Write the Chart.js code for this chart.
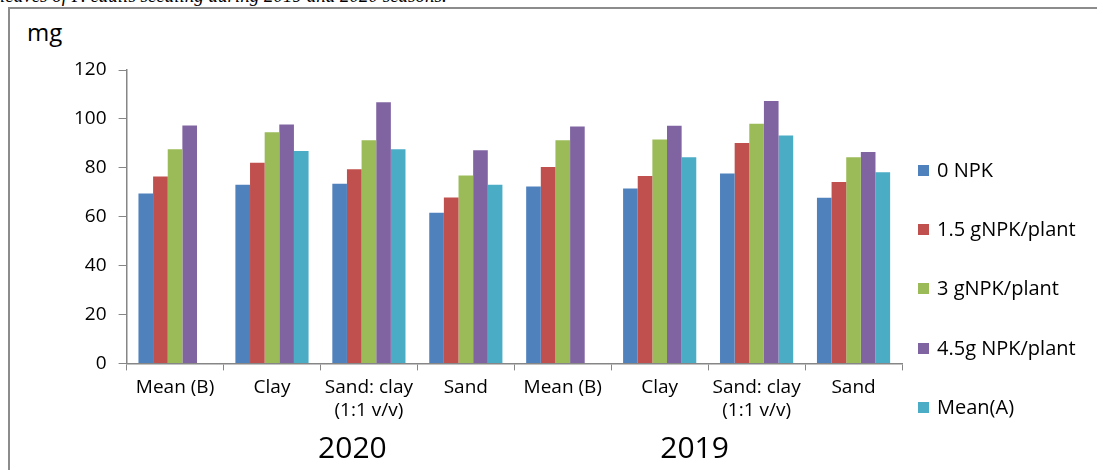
<!DOCTYPE html>
<html>
<head>
<meta charset="utf-8">
<script src="https://cdn.jsdelivr.net/npm/chart.js@4/dist/chart.umd.min.js"></script>
<style>
    html, body { margin: 0; padding: 0; background: #fff; }
    body { width: 1097px; height: 470px; position: relative; overflow: hidden; font-family: "Open Sans", sans-serif; }
    #caption { position: absolute; left: 0; top: -14px; font: italic 19px "Liberation Serif", serif; line-height: 19px; white-space: nowrap; color: #000; }
    #frame { position: absolute; left: 8px; top: 7px; width: 1100px; height: 480px; border-left: 2px solid #8c8c8c; border-top: 2px solid #8c8c8c; }
    #unit { position: absolute; left: 27px; top: 15px; font-size: 24px; color: #000; }
    #wrap { position: absolute; left: 0; top: 0; width: 1097px; height: 470px; }
    #legend { position: absolute; left: 918px; top: 155px; margin: 0; padding: 0; list-style: none; }
    #legend li { height: 59.2px; display: flex; align-items: flex-start; font-size: 20px; color: #000; line-height: 30px; }
    #legend span.box { display: inline-block; width: 11px; height: 11px; margin: 10px 8px 0 0; }
</style>
</head>
<body>
<div id="caption">leaves of P. edulis seedling during 2019 and 2020 seasons.</div>
<div id="frame"></div>
<div id="unit">mg</div>
<div id="wrap"><canvas id="chart"></canvas></div>
<ul id="legend"></ul>
<script>
// категории по оси X (2020, затем 2019)
const categories = [
    "Mean (B)", "Clay", ["Sand: clay", "(1:1 v/v)"], "Sand",
    "Mean (B)", "Clay", ["Sand: clay", "(1:1 v/v)"], "Sand"
];
const years = ["2020", "2019"];
const yearAnchors = [1.83, 5.36]; // позиция подписи года в индексах категорий

const npk0 = [69.5, 73.1, 73.5, 61.6, 72.4, 71.5, 77.7, 67.8];
const npk15 = [76.4, 82.1, 79.4, 67.9, 80.3, 76.6, 90.1, 74.2];
const npk3 = [87.6, 94.5, 91.3, 76.8, 91.3, 91.6, 98.0, 84.3];
const npk45 = [97.3, 97.7, 106.8, 87.2, 96.9, 97.2, 107.3, 86.5];
const meanA = [null, 86.9, 87.6, 73.1, null, 84.3, 93.2, 78.2];

const yTicks = [0, 20, 40, 60, 80, 100, 120];

const seriesNames = ["0 NPK", "1.5 gNPK/plant", "3 gNPK/plant", "4.5g NPK/plant", "Mean(A)"];
const seriesData = [npk0, npk15, npk3, npk45, meanA];
const seriesColors = ["#4F81BD", "#C0504D", "#9BBB59", "#8064A2", "#4BACC6"];

const datasets = seriesData.map((data, i) => ({
    label: seriesNames[i],
    data: data,
    backgroundColor: seriesColors[i],
    borderWidth: 0,
    categoryPercentage: 0.755,
    barPercentage: 1,
}));

// подписи годов под осью
const yearPlugin = {
    id: "years",
    afterDraw(chart) {
        const ctx = chart.ctx;
        const x = chart.scales.x;
        ctx.save();
        ctx.font = "30px 'Open Sans'";
        ctx.fillStyle = "#000";
        ctx.textAlign = "center";
        ctx.textBaseline = "middle";
        years.forEach((y, i) => {
            ctx.fillText(y, x.getPixelForValue(yearAnchors[i]), chart.chartArea.bottom + 86);
        });
        ctx.restore();
    }
};

const chart = new Chart(document.getElementById("chart"), {
    type: "bar",
    data: { labels: categories, datasets: datasets },
    options: {
        responsive: true,
        maintainAspectRatio: false,
        animation: false,
        layout: { padding: { left: 62, top: 70, right: 195, bottom: 42 } },
        plugins: {
            legend: { display: false },
            tooltip: { enabled: false },
        },
        scales: {
            x: {
                grid: { display: true, drawOnChartArea: false, offset: true, color: "#868686", tickLength: 7 },
                border: { display: true, color: "#868686", width: 1.5 },
                ticks: { color: "#000", font: { family: "Open Sans", size: 19 }, padding: 6, maxRotation: 0, autoSkip: false },
            },
            y: {
                min: 0,
                max: 120,
                afterBuildTicks: (scale) => { scale.ticks = yTicks.map(v => ({ value: v })); },
                grid: { display: true, drawOnChartArea: false, color: "#868686", tickLength: 8 },
                border: { display: true, color: "#868686", width: 1.5 },
                ticks: { color: "#000", font: { family: "Open Sans", size: 19 }, padding: 12 },
            },
        },
    },
    plugins: [yearPlugin],
});

// легенда справа
const legend = document.getElementById("legend");
chart.data.datasets.forEach(ds => {
    const li = document.createElement("li");
    const box = document.createElement("span");
    box.className = "box";
    box.style.background = ds.backgroundColor;
    li.appendChild(box);
    li.appendChild(document.createTextNode(ds.label));
    legend.appendChild(li);
});
</script>
</body>
</html>
